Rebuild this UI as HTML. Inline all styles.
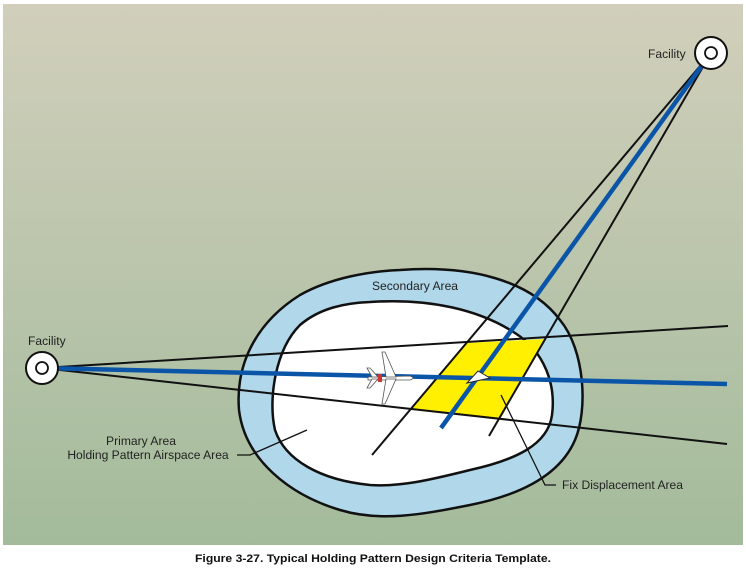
<!DOCTYPE html>
<html><head><meta charset="utf-8"><style>
html,body{margin:0;padding:0;background:#fff;}
svg{display:block;}
text{font-family:"Liberation Sans",Arial,sans-serif;}
</style></head><body>
<svg width="746" height="572" viewBox="0 0 746 572" xmlns="http://www.w3.org/2000/svg">
<defs><linearGradient id="bg" x1="0" y1="0" x2="0" y2="1">
<stop offset="0" stop-color="#d1cfbb"/><stop offset="1" stop-color="#a3bb9b"/></linearGradient></defs>
<rect x="3" y="4" width="740" height="541" fill="url(#bg)"/>
<path d="M400,270 C470,265 530,280 560,320 C585,350 588,410 575,440 C560,475 520,495 470,505 C420,515 380,522 340,510 C290,495 245,460 239,410 C235,360 260,320 300,295 C330,278 370,271 400,270 Z" fill="#b0d8ea" stroke="#111" stroke-width="2.5"/>
<path d="M370,302 C430,298 480,310 515,333 C545,352 556,385 552,415 C548,445 515,460 470,470 C430,480 400,487 370,485 C320,480 285,460 275,430 C268,400 275,350 300,325 C320,308 345,303 370,302 Z" fill="#fff" stroke="#111" stroke-width="2.5"/>
<polygon points="466,343 544,339 501,418 412,409" fill="#ffef00"/>
<g stroke="#111" stroke-width="2" fill="none">
<line x1="42" y1="368" x2="728" y2="326"/>
<line x1="42" y1="368" x2="727" y2="444"/>
<line x1="711" y1="53" x2="372" y2="455"/>
<line x1="711" y1="53" x2="489" y2="436"/>
<polyline points="501,395 545,485 556,485" stroke-width="1.3"/>
<polyline points="307,430 250,455 237,455" stroke-width="1.3"/>
</g>
<g stroke="#0b55a8" stroke-width="4.5">
<line x1="42" y1="368" x2="727" y2="384"/>
<line x1="711" y1="53" x2="441" y2="428"/>
</g>
<polygon points="467,383 478,371 490,378" fill="#fff" stroke="#222" stroke-width="1"/>
<g transform="translate(390,378)">
<path d="M-22,-1 L20,-2 Q26,0 20,2 L-22,2 Z" fill="#fff" stroke="#555" stroke-width="0.8"/>
<path d="M-4,-1 L-8,-26 L-5,-26 L6,-1 Z M-4,1 L-8,26 L-5,26 L6,1 Z" fill="#fff" stroke="#555" stroke-width="0.8"/>
<path d="M-18,-1 L-23,-10 L-20,-10 L-12,-1 Z M-18,1 L-23,10 L-20,10 L-12,1 Z" fill="#fff" stroke="#555" stroke-width="0.8"/>
<rect x="-12" y="-4" width="4" height="8" fill="#c33"/>
</g>
<circle cx="42" cy="368" r="16" fill="#fff" stroke="#111" stroke-width="2"/>
<circle cx="42" cy="368" r="6" fill="#fff" stroke="#111" stroke-width="1.8"/>
<circle cx="711" cy="53" r="16" fill="#fff" stroke="#111" stroke-width="2"/>
<circle cx="711" cy="53" r="6" fill="#fff" stroke="#111" stroke-width="1.8"/>
<g font-size="12.1" fill="#222">
<text x="28" y="345">Facility</text>
<text x="648" y="58">Facility</text>
<text x="415" y="290" text-anchor="middle">Secondary Area</text>
<text x="141" y="445" text-anchor="middle">Primary Area</text>
<text x="148" y="459" text-anchor="middle">Holding Pattern Airspace Area</text>
<text x="562" y="489">Fix Displacement Area</text>
</g>
<text x="373" y="562" text-anchor="middle" font-size="11" font-weight="bold" fill="#111" textLength="356" lengthAdjust="spacingAndGlyphs">Figure 3-27. Typical Holding Pattern Design Criteria Template.</text>
</svg>
</body></html>
